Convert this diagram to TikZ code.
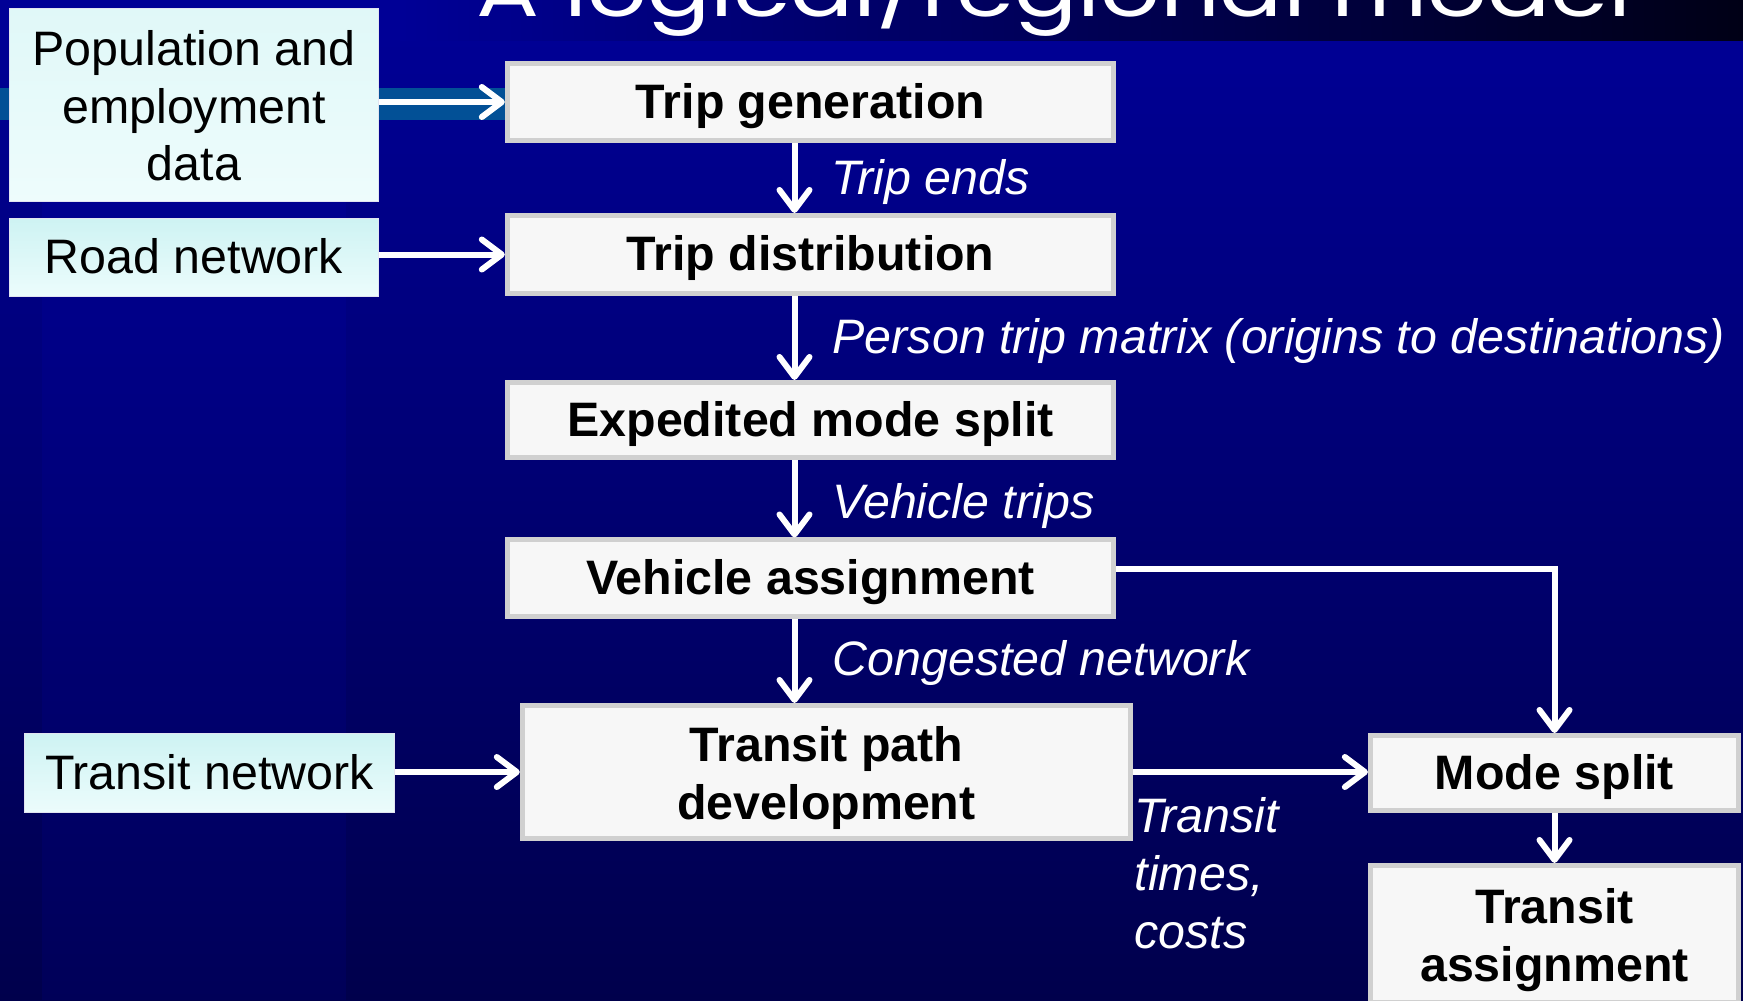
\documentclass[tikz,border=0pt]{standalone}
\usepackage{fontspec}
\setmainfont{Liberation Sans}
\newfontfamily\titlefont{Poppins}
\usetikzlibrary{arrows.meta,calc}
\definecolor{procfill}{RGB}{247,247,247}
\definecolor{procborder}{RGB}{208,208,208}
\definecolor{inborder}{RGB}{225,228,240}
\definecolor{bgtop}{RGB}{0,0,148}
\definecolor{bgbot}{RGB}{0,0,76}
\definecolor{bandleft}{RGB}{0,0,150}
\definecolor{bandright}{RGB}{0,0,22}
\definecolor{hband}{RGB}{2,80,150}
\definecolor{stripe}{RGB}{0,0,255}
\definecolor{cyantop}{RGB}{206,243,243}
\definecolor{cyanbot}{RGB}{236,252,252}
\definecolor{poptop}{RGB}{224,248,248}
\definecolor{popbot}{RGB}{238,252,252}
\newcommand{\mlines}[1]{\raisebox{-1.9pt}[\height][\depth]{\begin{tabular}{@{}c@{}}#1\end{tabular}}}
\begin{document}
\begin{tikzpicture}[x=0.01cm,y=-0.01cm,
  proc/.style={draw=procborder, line width=0.05cm, fill=procfill,
    font=\bfseries\fontsize{13.75}{16.4}\selectfont, align=center, inner sep=0pt, text=black},
  inbox/.style={draw=inborder, line width=0.015cm,
    font=\fontsize{13.75}{16.4}\selectfont, align=center, inner sep=0pt, text=black},
  oneline/.style={text height=1.0em, text depth=0.07em},
  lab/.style={text=white, font=\itshape\fontsize{13.75}{16.4}\selectfont, anchor=base west, inner sep=0pt},
  arr/.style={draw=white, line width=0.06cm, -{Straight Barb[length=0.2cm,width=0.3cm,round]}}]
\useasboundingbox (0,0) rectangle (1743,1000);
\clip (0,0) rectangle (1743,1000);
% background
\fill[top color=bgtop, bottom color=bgbot] (0,40) rectangle (1743,1000);
\fill[stripe, opacity=0.07] (42,40) rectangle (346,1000);
\fill[bandleft] (0,0) rectangle (400,40);
\fill[left color=bandleft, right color=bandright] (400,0) rectangle (1743,40);
\fill[hband] (0,88) rectangle (505,120);
% title (cut off at top)
\node[anchor=base west, inner sep=0pt, text=white] (title) at (476,17)
  {\resizebox{11.54cm}{\height}{\titlefont\fontsize{21}{25}\selectfont A logical/regional model}};
% process boxes
\node[proc, oneline, minimum width=6.06cm, minimum height=0.77cm] (tg) at (810.5,102) {Trip generation};
\node[proc, oneline, minimum width=6.06cm, minimum height=0.78cm] (td) at (810.5,254.5) {Trip distribution};
\node[proc, oneline, minimum width=6.06cm, minimum height=0.75cm] (ems) at (810.5,420) {Expedited mode split};
\node[proc, oneline, minimum width=6.06cm, minimum height=0.76cm] (va) at (810.5,578) {Vehicle assignment};
\node[proc, minimum width=6.08cm, minimum height=1.33cm] (tpd) at (826.5,772) {\mlines{Transit path\\development}};
\node[proc, oneline, minimum width=3.68cm, minimum height=0.75cm] (ms) at (1554.5,773) {Mode split};
\node[proc, minimum width=3.68cm, minimum height=1.37cm] (ta) at (1554.5,934) {\mlines{Transit\\assignment}};
% input boxes
\node[inbox, top color=poptop, bottom color=popbot, minimum width=3.69cm, minimum height=1.93cm] (pop) at (194,105) {\mlines{Population and\\employment\\data}};
\node[inbox, oneline, top color=cyantop, bottom color=cyanbot, minimum width=3.69cm, minimum height=0.78cm] (road) at (194,257.5) {Road network};
\node[inbox, oneline, top color=cyantop, bottom color=cyanbot, minimum width=3.70cm, minimum height=0.79cm] (tn) at (209.5,773) {Transit network};
% labels
\node[lab] (l1) at (831,194) {Trip ends};
\node[lab] (l2) at (832,353) {Person trip matrix (origins to destinations)};
\node[lab] (l3) at (832,518) {Vehicle trips};
\node[lab] (l4) at (832,675) {Congested network};
\node[lab, anchor=north west, align=left] (l5) at (1134,797) {Transit\\times,\\costs};
% connectors
\draw[arr] (pop.east |- tg.west) -- (tg.west);
\draw[arr] (road.east |- td.west) -- (td.west);
\draw[arr] ([xshift=-0.16cm]tg.south) -- ([xshift=-0.16cm]td.north);
\draw[arr] ([xshift=-0.16cm]td.south) -- ([xshift=-0.16cm]ems.north);
\draw[arr] ([xshift=-0.16cm]ems.south) -- ([xshift=-0.16cm]va.north);
\draw[arr] ([xshift=-0.16cm]va.south) -- ([xshift=-0.16cm]va.south |- tpd.north);
\draw[arr] ([yshift=0.09cm]va.east) -- ([yshift=0.09cm]va.east -| ms.north) -- (ms.north);
\draw[arr] (tn.east |- tpd.west) -- (tpd.west);
\draw[arr] (tpd.east) -- (tpd.east -| ms.west);
\draw[arr] (ms.south) -- (ta.north);
\end{tikzpicture}
\end{document}
